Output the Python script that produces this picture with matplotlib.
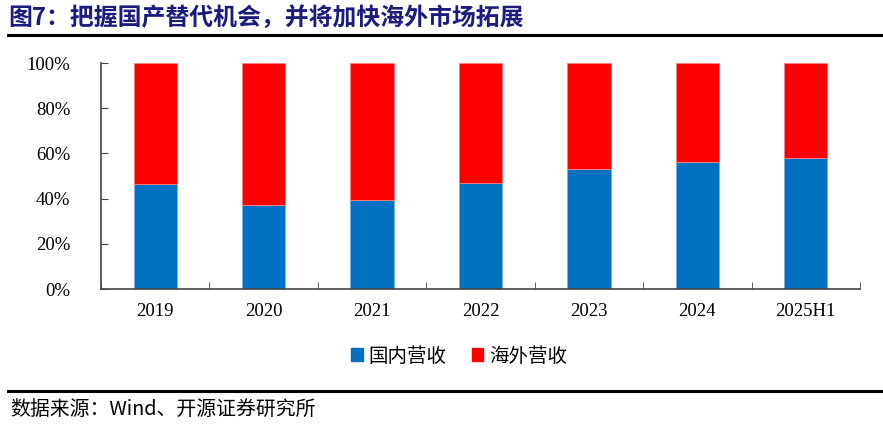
import numpy as np
import matplotlib.pyplot as plt
from matplotlib.lines import Line2D
from matplotlib.patches import Patch

# 数据
years = ["2019", "2020", "2021", "2022", "2023", "2024", "2025H1"]
domestic = [46.5, 37.3, 39.3, 47.0, 53.0, 56.0, 58.1]
overseas = [100 - v for v in domestic]
series_names = ["国内营收", "海外营收"]
colors = ["#0070C0", "#FF0000"]

cjk = ["Noto Sans CJK SC", "DejaVu Sans"]
serif = ["Liberation Serif", "DejaVu Serif"]

fig = plt.figure(figsize=(8.83, 4.25), dpi=100)
W, H = 883, 425

# 标题与分隔线
fig.text(8 / W, 1 - 18 / H, "图7：把握国产替代机会，并将加快海外市场拓展",
         family=cjk, fontsize=17.2, fontweight="bold", color="#1C1C7E", va="center")
fig.add_artist(Line2D([8 / W, 1], [1 - 35 / H, 1 - 35 / H], color="black", lw=2.2))
fig.add_artist(Line2D([8 / W, 1], [1 - 391 / H, 1 - 391 / H], color="black", lw=2.2))
fig.text(10 / W, 1 - 409 / H, "数据来源：Wind、开源证券研究所",
         family=cjk, fontsize=14.3, color="black", va="center")

ax = fig.add_axes([101 / W, 1 - 289 / H, (860 - 101) / W, (289 - 63) / H])
x = np.arange(len(years))
ax.bar(x, domestic, width=0.4, color=colors[0], edgecolor="#7FB0DD", linewidth=0.6)
ax.bar(x, overseas, width=0.4, bottom=domestic, color=colors[1], edgecolor="#FF8080", linewidth=0.6)

ax.set_xlim(-0.5, len(years) - 0.5)
ax.set_ylim(0, 100)
ax.set_yticks(np.arange(0, 101, 20))
ax.set_yticklabels([f"{v}%" for v in range(0, 101, 20)], family=serif, fontsize=13.5)
ax.set_xticks(x)
ax.set_xticklabels(years, family=serif, fontsize=13.5)
ax.tick_params(axis="x", length=0, pad=10)
ax.set_xticks(np.arange(-0.5, len(years), 1), minor=True)
ax.tick_params(axis="x", which="minor", direction="in", length=5, color="#444444")
ax.tick_params(axis="y", direction="in", length=5, color="#444444", pad=22)
for s in ["top", "right"]:
    ax.spines[s].set_visible(False)
for s in ["left", "bottom"]:
    ax.spines[s].set_color("#444444")
    ax.spines[s].set_linewidth(1.2)

handles = [Patch(color=c, label=n) for c, n in zip(colors, series_names)]
fig.legend(handles=handles, loc="center", bbox_to_anchor=(459 / W, 1 - 356 / H), ncol=2,
           frameon=False, prop={"family": cjk, "size": 14}, handlelength=0.6, handleheight=0.6,
           handletextpad=0.3, columnspacing=1.3)

fig.savefig("out.png", dpi=100)
